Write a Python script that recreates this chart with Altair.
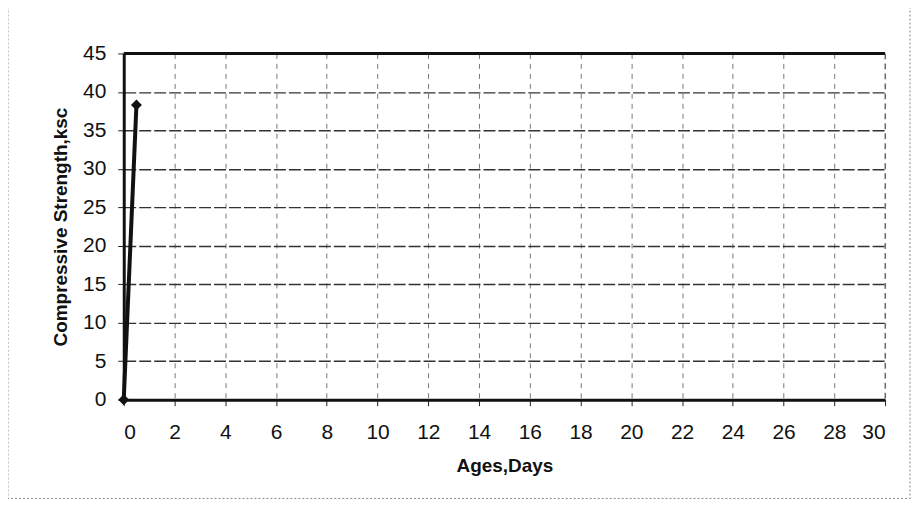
import altair as alt
import pandas as pd

ages = [0, 0.5]
strength = [0, 38.3]
x_ticks = list(range(0, 31, 2))
y_ticks = list(range(0, 46, 5))

df = pd.DataFrame({"age": ages, "strength": strength})

FONT = "Liberation Sans"

xscale = alt.Scale(domain=[0, 30], nice=False, zero=True)
yscale = alt.Scale(domain=[0, 45], nice=False)

xaxis = alt.Axis(values=x_ticks, title="Ages,Days", grid=True,
                 gridDash=[5, 5], gridColor="#777", gridWidth=1,
                 labelFontSize=21, labelPadding=16, tickSize=6,
                 tickColor="#222", domainColor="#111", domainWidth=3,
                 titleFontSize=19, titleFontWeight="bold", titlePadding=14,
                 labelColor="#111", titleColor="#111", labelOverlap=False)
yaxis = alt.Axis(values=y_ticks, title="Compressive Strength,ksc", grid=True,
                 gridDash=[12, 3], gridColor="#333", gridWidth=1.4,
                 labelFontSize=21, labelPadding=12, tickSize=6,
                 tickColor="#222", domainColor="#111", domainWidth=3,
                 titleFontSize=19, titleFontWeight="bold", titlePadding=12,
                 labelColor="#111", titleColor="#111", labelOverlap=False)

base = alt.Chart(df)

line = base.mark_line(color="#111", strokeWidth=4, clip=False).encode(
    x=alt.X("age:Q", scale=xscale, axis=xaxis),
    y=alt.Y("strength:Q", scale=yscale, axis=yaxis),
)

points = base.mark_point(shape="diamond", filled=True, color="#111", size=120,
                         opacity=1, clip=False).encode(
    x=alt.X("age:Q", scale=xscale, axis=xaxis),
    y=alt.Y("strength:Q", scale=yscale, axis=yaxis),
)

top_rule = alt.Chart(pd.DataFrame({"strength": [45]})).mark_rule(
    color="#111", strokeWidth=3).encode(y=alt.Y("strength:Q", scale=yscale, axis=yaxis))

right_rule = alt.Chart(pd.DataFrame({"age": [30]})).mark_rule(
    color="#555", strokeWidth=1, strokeDash=[6, 4]).encode(
    x=alt.X("age:Q", scale=xscale, axis=xaxis))

frame = alt.Chart(pd.DataFrame({"a": [0]})).mark_rect(
    fill=None, stroke="#888", strokeWidth=1, strokeDash=[2, 2], clip=False
).encode(
    x=alt.value(-116), x2=alt.value(788),
    y=alt.value(-47), y2=alt.value(446),
)

chart = alt.layer(line, points, top_rule, right_rule, frame).properties(
    width=763, height=347,
    autosize=alt.AutoSizeParams(type="none"),
    padding={"left": 116, "top": 45, "right": 30, "bottom": 102},
    background="white",
).configure_view(stroke=None).configure_axis(
    labelFont=FONT, titleFont=FONT
)

chart.save("out.html", embed_options={"renderer": "svg", "actions": False})
